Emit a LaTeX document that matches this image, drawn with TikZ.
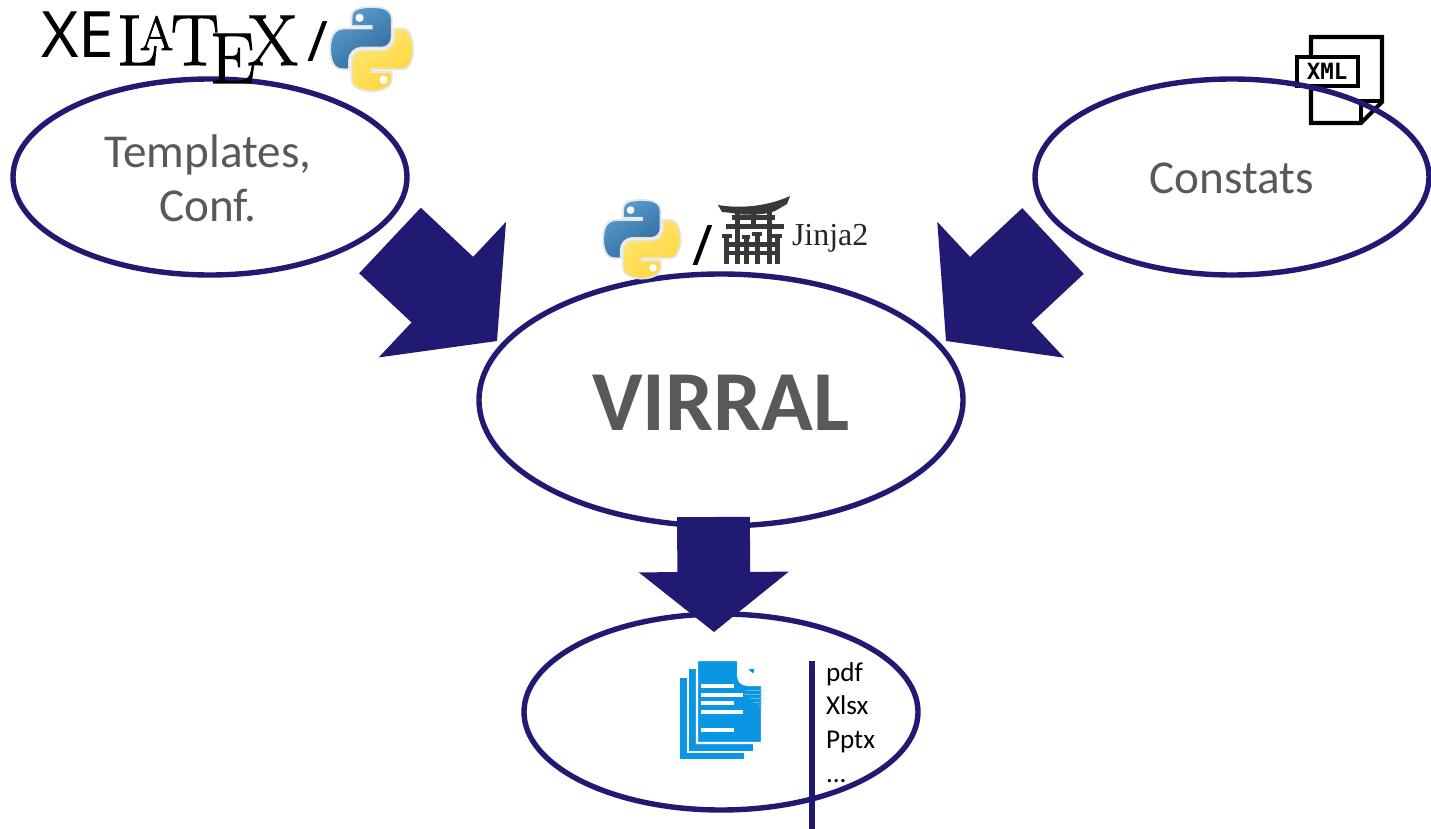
\documentclass[tikz,border=0pt]{standalone}
\usepackage{fontspec}
\setmainfont{Carlito}
\newfontfamily\notof{Noto Sans}
\newfontfamily\lmf[FakeBold=1.6]{Latin Modern Roman}
\newfontfamily\serf{Liberation Serif}
\newfontfamily\heavy{DejaVu Sans Mono}
\usetikzlibrary{shapes.geometric,calc}
\definecolor{navy}{HTML}{201A72}
\definecolor{txtgray}{HTML}{595959}
\definecolor{docblue}{HTML}{0B96E3}
\definecolor{toriic}{HTML}{383838}
\definecolor{pyb1}{HTML}{5A9FD4}
\definecolor{pyb2}{HTML}{306998}
\definecolor{pyy1}{HTML}{FFE873}
\definecolor{pyy2}{HTML}{FFD43B}
\tikzset{
  bubble/.style={ellipse,draw=navy,line width=2.7pt,inner sep=0pt,outer sep=0pt,text=txtgray,align=center},
  plaintext/.style={inner sep=0pt,outer sep=0pt,text=txtgray,align=center},
  glyph/.style={inner sep=0pt,outer sep=0pt,anchor=base west,text=black},
  blockfill/.style={fill=navy,draw=none},
  docpage/.style={fill=docblue,draw=white,line width=1.2pt},
  docbar/.style={fill=white,draw=none},
  fmttext/.style={inner sep=0pt,outer sep=0pt,anchor=base west,text=black,font=\fontsize{13.6}{16}\selectfont},
}
\newcommand{\blockarrow}[5]{% from, to, shaft half, head half, head length
  \coordinate (nk) at ($(#2)!#5!(#1)$);
  \fill[blockfill] ($(#1)!#3!90:(#2)$) -- ($(nk)!#3!90:(#2)$) -- ($(nk)!#4!90:(#2)$) -- (#2)
    -- ($(nk)!#4!-90:(#2)$) -- ($(nk)!#3!-90:(#2)$) -- ($(#1)!#3!-90:(#2)$) -- cycle;
}
\newcommand{\pylogo}[3]{%
\begin{scope}[shift={(#1,#2)},scale=#3]
\path[left color=pyb1,right color=pyb2,shading angle=35,draw=black!10,line width=0.9pt]
 (54.92,0) .. controls (50.34,0.02) and (45.96,0.41) .. (42.11,1.09)
 .. controls (30.76,3.1) and (28.7,7.29) .. (28.7,15.03) -- (28.7,25.25) -- (55.51,25.25) -- (55.51,28.66) -- (18.64,28.66)
 .. controls (10.85,28.66) and (4.02,33.34) .. (1.89,42.25)
 .. controls (-0.57,52.46) and (-0.68,58.85) .. (1.89,69.5)
 .. controls (3.79,77.43) and (8.33,83.08) .. (16.12,83.08) -- (25.34,83.08) -- (25.34,70.83)
 .. controls (25.34,61.98) and (33,54.17) .. (42.1,54.17) -- (68.88,54.17)
 .. controls (76.34,54.17) and (82.29,48.03) .. (82.29,40.54) -- (82.29,15.03)
 .. controls (82.29,7.77) and (76.16,2.32) .. (68.88,1.09)
 .. controls (64.27,0.33) and (59.5,-0.02) .. (54.92,0) -- cycle;
\path[left color=pyy1,right color=pyy2,shading angle=35,draw=black!10,line width=0.9pt]
 (85.64,28.66) -- (85.64,40.55) .. controls (85.64,49.78) and (77.81,57.55) .. (68.88,57.55) -- (42.1,57.55)
 .. controls (34.77,57.55) and (28.7,63.83) .. (28.7,71.17) -- (28.7,96.71)
 .. controls (28.7,103.98) and (35.02,108.25) .. (42.1,110.33)
 .. controls (50.58,112.82) and (58.72,113.27) .. (68.88,110.33)
 .. controls (75.63,108.38) and (82.29,104.45) .. (82.29,96.71) -- (82.29,86.5) -- (55.5,86.5) -- (55.5,83.09) -- (95.7,83.09)
 .. controls (103.5,83.09) and (106.4,77.66) .. (109.1,69.5)
 .. controls (111.9,61.08) and (111.8,52.99) .. (109.1,42.25)
 .. controls (107.2,34.52) and (103.5,28.66) .. (95.7,28.66) -- cycle;
\fill[white] (39.4,14.4) circle[radius=5.5];
\fill[white] (71.4,97) circle[radius=5.5];
\end{scope}}
\begin{document}
\begin{tikzpicture}[x=0.5pt,y=-0.5pt]
\useasboundingbox (0,0) rectangle (1431,829);
% XML icon
\draw[black,line width=2.1pt,miter limit=10] (1311,37) -- (1382,37) -- (1382,102) -- (1361,123) -- (1311,123) -- cycle;
\draw[black,line width=2.1pt] (1361,123) -- (1361,101) -- (1382,101);
\draw[black,line width=2.3pt,fill=white] (1297,57) rectangle (1358,86);
\node[inner sep=0pt,text=black,font=\heavy\bfseries\fontsize{11.2}{14}\selectfont] (xmllabel) at (1327,71.5) {XML};
% Bubbles
\node[bubble,minimum width=197pt,minimum height=98pt] (tpl) at (210,177) {};
\node[plaintext,font=\fontsize{23.6}{27}\selectfont] (tpltext) at (208,178) {Templates,\\Conf.};
\node[bubble,minimum width=197pt,minimum height=98pt] (cst) at (1232,177) {};
\node[plaintext,font=\fontsize{23.6}{27}\selectfont] (csttext) at (1232,178) {Constats};
\node[bubble,minimum width=242pt,minimum height=126pt] (vir) at (721,400) {};
\node[plaintext,font=\bfseries\fontsize{42.7}{50}\selectfont] (virtext) at (721,403) {VIRRAL};
\node[bubble,minimum width=197pt,minimum height=98pt] (out) at (721,712) {};
% Block arrows
\coordinate (tplfoot) at (390,240.5);
\coordinate (virtipl) at (497,341);
\coordinate (cstfoot) at (1053,241);
\coordinate (virtipr) at (946,341);
\coordinate (virfoot) at (713.5,517);
\coordinate (outtip) at (714,632);
\blockarrow{tplfoot}{virtipl}{22.5pt}{46.5pt}{37.5pt}
\blockarrow{cstfoot}{virtipr}{22.5pt}{46.5pt}{37.5pt}
\blockarrow{virfoot}{outtip}{18.2pt}{37.5pt}{30pt}
% XeLaTeX logo
\node[glyph,font=\notof\fontsize{32}{32}\selectfont] (lx) at (41,58) {X};
\node[glyph,font=\notof\fontsize{32}{32}\selectfont] (le) at (78,58) {E};
\node[glyph,font=\lmf\fontsize{36}{36}\selectfont] (ll) at (117,65) {L};
\node[glyph,font=\lmf\fontsize{24}{24}\selectfont] (la) at (140,50) {A};
\node[glyph,font=\lmf\fontsize{36}{36}\selectfont] (lt) at (171,65) {T};
\node[glyph,font=\lmf\fontsize{36}{36}\selectfont] (lee) at (210,83) {E};
\node[glyph,font=\lmf\fontsize{36}{36}\selectfont] (lxx) at (248,65) {X};
\node[glyph,font=\notof\fontsize{28}{28}\selectfont] (sl1) at (307,62) {/};
\pylogo{330}{7}{0.75}
% Python / Jinja2
\pylogo{603}{200}{0.7}
\node[glyph,font=\notof\bfseries\fontsize{28}{28}\selectfont] (sl2) at (692,265) {/};
\begin{scope}[toriic]
% roof
\fill (718,205) .. controls (742,209) and (768,206) .. (790,196) -- (787,204) -- (775,211) .. controls (765,215) and (745,216) .. (732,213) -- (722,212) -- cycle;
% upper lintels
\fill (732,215) rectangle (775,220);
\fill (726,224) rectangle (784,229);
% main and centre posts
\fill (735,212) rectangle (740,264);
\fill (767,212) rectangle (772,264);
\fill (751,214) rectangle (756,225);
% caps of small pillars
\fill (722,234) rectangle (732,238);
\fill (742,235) rectangle (750,239);
\fill (752,232) rectangle (762,236);
\fill (772,234) rectangle (782,238);
% small pillars
\fill (724,236) rectangle (729,264);
\fill (744,237) rectangle (749,264);
\fill (755,234) rectangle (760,264);
\fill (775,236) rectangle (780,264);
% ties
\fill (724,242) rectangle (780,247);
\fill (724,251) rectangle (780,255);
\end{scope}
\node[glyph,font=\serf\fontsize{16}{16}\selectfont,text=black!85] (jinja) at (792,245) {Jinja2};
% Document icon
\filldraw[docpage] (679,677) rectangle (745,760);
\filldraw[docpage] (688,668) rectangle (754,752);
\filldraw[docpage] (697,660) -- (737,660) -- (762,684) -- (762,743) -- (697,743) -- cycle;
\fill[white] (737,660) -- (737,675) .. controls (737,682) and (741,686) .. (748,686) -- (763,686) -- cycle;
\fill[docblue] (750,669) -- (754,669) -- (754,673) -- cycle;
\foreach \yy/\xe in {684/734,693/743,701/734,710/743,728/734}{
  \fill[docbar] (701,\yy) rectangle (\xe,\yy+4.2);
}
\foreach \yy/\xs in {690/746,694/744,698/750,702/754,705/758}{
  \draw[white!35!docblue,line width=0.4pt] (\xs,\yy) -- (762,\yy);
}
% Separator and formats
\coordinate (septop) at (812,661);
\coordinate (sepbot) at (812,829);
\draw[navy,line width=2.6pt] (septop) -- (sepbot);
\node[fmttext] (f1) at (826,681) {pdf};
\node[fmttext] (f2) at (826,714) {Xlsx};
\node[fmttext] (f3) at (826,748) {Pptx};
\node[fmttext] (f4) at (826,782) {...};
\end{tikzpicture}
\end{document}
